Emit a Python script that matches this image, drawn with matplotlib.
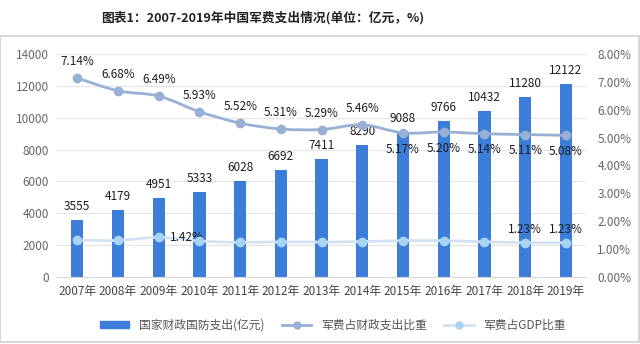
import matplotlib.pyplot as plt
import matplotlib.patches as mpatches
from matplotlib.lines import Line2D
from matplotlib.path import Path
from matplotlib.ticker import FuncFormatter

plt.rcParams['font.family'] = ['Noto Sans CJK SC', 'DejaVu Sans']

# data
years = ['2007年', '2008年', '2009年', '2010年', '2011年', '2012年', '2013年',
         '2014年', '2015年', '2016年', '2017年', '2018年', '2019年']
spending = [3555, 4179, 4951, 5333, 6028, 6692, 7411, 8290, 9088, 9766, 10432, 11280, 12122]
fiscal_share = [7.14, 6.68, 6.49, 5.93, 5.52, 5.31, 5.29, 5.46, 5.17, 5.20, 5.14, 5.11, 5.08]
gdp_share = [1.32, 1.31, 1.42, 1.29, 1.24, 1.26, 1.25, 1.27, 1.30, 1.30, 1.26, 1.23, 1.23]
gdp_labelled = {2: 'right', 11: 'top', 12: 'top'}

bar_color = '#3B7DD8'
line_color = '#98B0D6'
gdp_line = '#D3E2F2'
gdp_marker = '#A7D3F5'
text_color = '#1E1E1E'
tick_color = '#666666'


def smooth_path(xs, ys, t=1 / 6):
    # cubic bezier through every point (Catmull-Rom style control points)
    verts = [(xs[0], ys[0])]
    codes = [Path.MOVETO]
    n = len(xs)
    for i in range(n - 1):
        x0, y0 = (xs[i - 1], ys[i - 1]) if i > 0 else (xs[i], ys[i])
        x1, y1 = xs[i], ys[i]
        x2, y2 = xs[i + 1], ys[i + 1]
        x3, y3 = (xs[i + 2], ys[i + 2]) if i + 2 < n else (x2, y2)
        verts += [(x1 + (x2 - x0) * t, y1 + (y2 - y0) * t),
                  (x2 - (x3 - x1) * t, y2 - (y3 - y1) * t),
                  (x2, y2)]
        codes += [Path.CURVE4] * 3
    return Path(verts, codes)


fig = plt.figure(figsize=(6.4, 3.44), dpi=100)
fig.patch.set_facecolor('white')

fig.text(0.41, 0.948, '图表1：2007-2019年中国军费支出情况(单位：亿元，%)',
         ha='center', va='center', fontsize=9.2, fontweight='bold', color='#222222')

# light frame around the chart body
frame = mpatches.Rectangle((0.0, 0.005), 0.998, 0.89, transform=fig.transFigure,
                           fill=False, edgecolor='#D0D0D0', linewidth=1.2)
fig.patches.append(frame)

ax = fig.add_axes([0.089, 0.195, 0.827, 0.648])
x = list(range(len(years)))

ax.bar(x, spending, width=0.3, color=bar_color, zorder=2)
for xi, v in zip(x, spending):
    ax.annotate(str(v), (xi, v), xytext=(0, 5), textcoords='offset points',
                ha='center', va='bottom', fontsize=8.5, color=text_color)

ax.set_ylim(0, 14000)
ax.set_yticks(range(0, 14001, 2000))
ax.set_xlim(-0.5, len(years) - 0.5)
ax.set_xticks(x)
ax.set_xticklabels(years, fontsize=8.5, color='#444444')
ax.tick_params(axis='both', length=0, pad=6)
ax.tick_params(axis='y', labelsize=8.5, labelcolor=tick_color)
ax.grid(axis='y', color='#E4E4E4', linewidth=0.8, zorder=0)
for s in ['top', 'right', 'left']:
    ax.spines[s].set_visible(False)
ax.spines['bottom'].set_color('#D9D9D9')

ax2 = ax.twinx()
ax2.set_ylim(0, 8)
ax2.set_yticks(range(0, 9))
ax2.yaxis.set_major_formatter(FuncFormatter(lambda v, _: f'{v:.2f}%'))
ax2.tick_params(axis='y', length=0, labelsize=8.5, labelcolor=tick_color, pad=8)
for s in ax2.spines.values():
    s.set_visible(False)

# fiscal-share line, smoothed
ax2.add_patch(mpatches.PathPatch(smooth_path(x, fiscal_share), fill=False,
                                 edgecolor=line_color, linewidth=2, zorder=3))
ax2.plot(x, fiscal_share, ls='none', marker='o', markersize=6,
         markerfacecolor=line_color, markeredgecolor=line_color, zorder=4)
for i, v in enumerate(fiscal_share):
    dy = 7 if i <= 7 else -7
    ax2.annotate(f'{v:.2f}%', (i, v), xytext=(0, dy), textcoords='offset points',
                 ha='center', va='bottom' if dy > 0 else 'top',
                 fontsize=8.5, color=text_color)

# GDP-share line, smoothed
ax2.add_patch(mpatches.PathPatch(smooth_path(x, gdp_share), fill=False,
                                 edgecolor=gdp_line, linewidth=2, zorder=3))
ax2.plot(x, gdp_share, ls='none', marker='o', markersize=6,
         markerfacecolor=gdp_marker, markeredgecolor=gdp_marker, zorder=4)
for i, where in gdp_labelled.items():
    v = gdp_share[i]
    if where == 'right':
        ax2.annotate(f'{v:.2f}%', (i, v), xytext=(8, 0), textcoords='offset points',
                     ha='left', va='center', fontsize=8.5, color=text_color)
    else:
        ax2.annotate(f'{v:.2f}%', (i, v), xytext=(0, 5), textcoords='offset points',
                     ha='center', va='bottom', fontsize=8.5, color=text_color)

handles = [
    mpatches.Patch(color=bar_color),
    Line2D([], [], color=line_color, lw=2, marker='o', markersize=5),
    Line2D([], [], color=gdp_line, lw=2, marker='o', markersize=5,
           markerfacecolor=gdp_marker, markeredgecolor=gdp_marker),
]
labels = ['国家财政国防支出(亿元)', '军费占财政支出比重', '军费占GDP比重']
fig.legend(handles, labels, loc='center', bbox_to_anchor=(0.52, 0.055), ncol=3,
           frameon=False, fontsize=8.5, handlelength=2.5, handleheight=0.5,
           columnspacing=1.5, labelcolor='#555555')

fig.savefig('out.png', dpi=100, facecolor='white')
